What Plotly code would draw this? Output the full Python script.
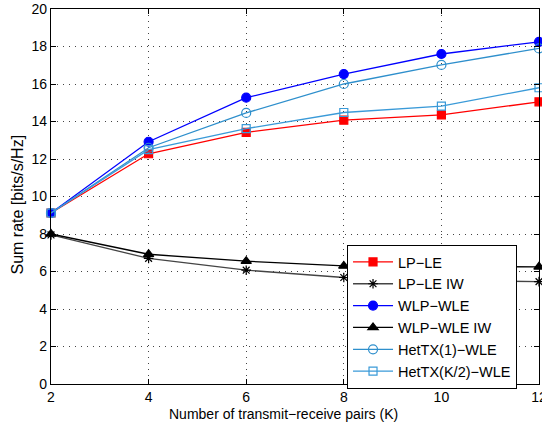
import plotly.graph_objects as go

K = [2, 4, 6, 8, 10, 12]
lp_le = [9.12, 12.28, 13.42, 14.07, 14.35, 15.05]
lp_le_iw = [7.95, 6.70, 6.07, 5.68, 5.52, 5.46]
wlp_wle = [9.12, 12.92, 15.27, 16.53, 17.6, 18.25]
wlp_wle_iw = [8.0, 6.92, 6.55, 6.3, 6.26, 6.25]
het1 = [9.12, 12.6, 14.46, 16.0, 17.02, 17.9]
hetk2 = [9.12, 12.5, 13.62, 14.48, 14.82, 15.8]

series = [
    ("LP\u2212LE", lp_le, "#ff0000", "#ff0000", "square", 8),
    ("LP\u2212LE IW", lp_le_iw, "#444444", "#000000", "asterisk-open", 8),
    ("WLP\u2212WLE", wlp_wle, "#0000ff", "#0000ff", "circle", 9),
    ("WLP\u2212WLE IW", wlp_wle_iw, "#000000", "#000000", "triangle-up", 9),
    ("HetTX(1)\u2212WLE", het1, "#2e8fcc", "#2e8fcc", "circle-open", 9),
    ("HetTX(K/2)\u2212WLE", hetk2, "#3a9ad8", "#3a9ad8", "square-open", 8),
]

fig = go.Figure()
for name, y, lc, mc, sym, sz in series:
    fig.add_trace(go.Scatter(
        x=K, y=y, name=name, mode="lines+markers", cliponaxis=False,
        line=dict(color=lc, width=1.3),
        marker=dict(symbol=sym, size=sz, color=mc, line=dict(color=mc, width=1.2)),
    ))

FAM = "Liberation Sans, Arial, sans-serif"
font = dict(family=FAM, size=14, color="#000000")
axis_common = dict(
    showgrid=True, gridcolor="#444444", griddash="1px,5px", gridwidth=1,
    showline=True, linecolor="black", linewidth=1.2, mirror="ticks",
    ticks="inside", ticklen=5, tickcolor="black",
    zeroline=False, automargin=False, ticklabeloverflow="allow",
    tickfont=dict(family=FAM, size=14, color="black"),
)
fig.update_layout(
    width=542, height=428,
    margin=dict(l=51, r=3, t=9, b=44),
    paper_bgcolor="white", plot_bgcolor="white",
    font=font,
    showlegend=True,
    legend=dict(
        x=0.6066, y=0.3707, xanchor="left", yanchor="top",
        bgcolor="white", bordercolor="black", borderwidth=1,
        font=dict(family=FAM, size=14.5),
        tracegroupgap=0, itemwidth=40,
    ),
    xaxis=dict(range=[2, 12], tickvals=[2, 4, 6, 8, 10, 12], **axis_common),
    yaxis=dict(range=[0, 20], tickvals=list(range(0, 21, 2)), **axis_common),
    annotations=[
        dict(text="Number of transmit\u2212receive pairs (K)", xref="paper", yref="paper",
             x=0.5, y=0, xanchor="center", yanchor="middle", xshift=-12, yshift=-30,
             showarrow=False, font=dict(family=FAM, size=14, color="black")),
        dict(text="Sum rate [bits/s/Hz]", xref="paper", yref="paper",
             x=0, y=0.5, xanchor="center", yanchor="middle", xshift=-34, yshift=-8,
             textangle=-90, showarrow=False, font=dict(family=FAM, size=16, color="black")),
    ],
)

fig.write_html("out.html", config={"displayModeBar": False},
               post_script="document.body.style.margin='0';")
